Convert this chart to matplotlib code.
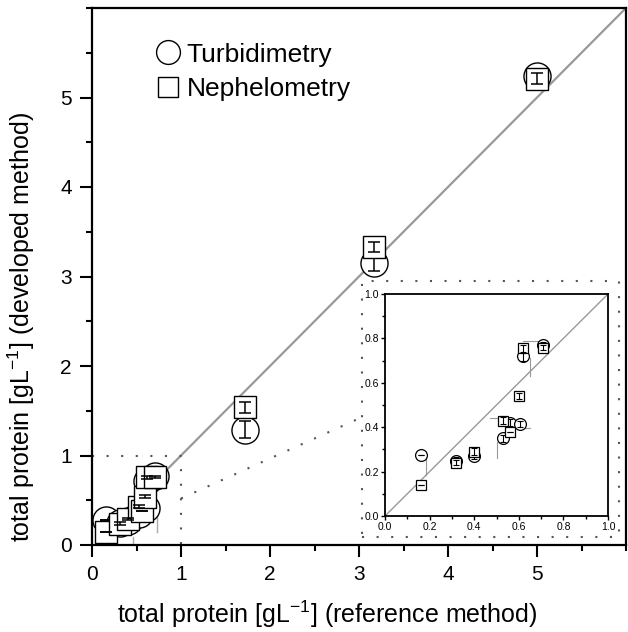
import matplotlib
matplotlib.use('Agg')
import matplotlib.pyplot as plt
from matplotlib.ticker import MultipleLocator, FormatStrFormatter

plt.rcParams['font.family'] = ['Liberation Sans', 'DejaVu Sans']
plt.rcParams['mathtext.default'] = 'regular'

# total protein [g/L]: reference method (x) vs developed method (y)
ref_turb = [0.16, 0.32, 0.40, 0.53, 0.56, 0.605, 0.62, 0.71, 1.72, 3.17, 5.00]
dev_turb = [0.275, 0.25, 0.27, 0.35, 0.42, 0.415, 0.72, 0.77, 1.29, 3.15, 5.24]
err_turb = [0.0, 0.015, 0.015, 0.015, 0.015, 0.015, 0.02, 0.015, 0.09, 0.09, 0.02]

ref_neph = [0.16, 0.32, 0.40, 0.53, 0.56, 0.60, 0.62, 0.71, 1.72, 3.17, 5.00]
dev_neph = [0.14, 0.24, 0.29, 0.43, 0.38, 0.54, 0.755, 0.758, 1.54, 3.33, 5.21]
err_neph = [0.0, 0.012, 0.015, 0.015, 0.0, 0.015, 0.015, 0.012, 0.06, 0.06, 0.06]

# thin grey bars (inset scale and main scale)
inset_seg_x = [[0.185, 0.185], [0.62, 0.70], [0.65, 0.65], [0.47, 0.53], [0.50, 0.50], [0.615, 0.65]]
inset_seg_y = [[0.185, 0.26], [0.79, 0.79], [0.63, 0.71], [0.44, 0.44], [0.26, 0.335], [0.395, 0.395]]
main_seg_x = [[0.735, 0.735], [0.46, 0.46]]
main_seg_y = [[0.15, 0.45], [0.0, 0.09]]

# zoom frame decoration
zoom_box_x = [0, 1, 1]
zoom_box_y = [1, 1, 0]
link_x = [1.0, 2.97]
link_y = [0.52, 1.40]
inset_box_x = [3.03, 5.92, 5.92, 3.03, 3.03]
inset_box_y = [0.09, 0.09, 2.95, 2.95, 0.09]
diag_main = [0.85, 6.0]
diag_inset = [0.0, 1.0]

dots = (0, (1, 6))
dotcol = '#555555'

fig = plt.figure(figsize=(6.28, 6.32), dpi=100)
ax = fig.add_axes([92/628, 87/632, 534/628, 537/632])

ax.plot(diag_main, diag_main, color='#999999', lw=1.6, zorder=1)
ax.plot(zoom_box_x, zoom_box_y, color=dotcol, lw=1.5, ls=dots, zorder=1)
ax.plot(link_x, link_y, color=dotcol, lw=1.5, ls=dots, zorder=1)
ax.plot(inset_box_x, inset_box_y, color=dotcol, lw=1.5, ls=dots, zorder=1)
for sx, sy in zip(main_seg_x, main_seg_y):
    ax.plot(sx, sy, color='#aaaaaa', lw=1, zorder=1)

ax.plot(ref_turb, dev_turb, 'o', ms=19.5, mfc='white', mec='black', mew=1.0,
        label='Turbidimetry', zorder=2)
ax.errorbar(ref_turb, dev_turb, yerr=err_turb, fmt='none', ecolor='black',
            elinewidth=1.1, capsize=4, capthick=1.1, zorder=3)
ax.plot(ref_neph, dev_neph, 's', ms=16.5, mfc='white', mec='black', mew=1.0,
        label='Nephelometry', zorder=4)
ax.errorbar(ref_neph, dev_neph, yerr=err_neph, fmt='none', ecolor='black',
            elinewidth=1.1, capsize=4, capthick=1.1, zorder=5)

ax.set_xlim(0, 6)
ax.set_ylim(0, 6)
ax.xaxis.set_minor_locator(MultipleLocator(0.5))
ax.yaxis.set_minor_locator(MultipleLocator(0.5))
ax.set_xticks([0, 1, 2, 3, 4, 5])
ax.set_yticks([0, 1, 2, 3, 4, 5])
ax.tick_params(which='major', direction='out', length=8.5, width=1.5, labelsize=15, pad=6)
ax.tick_params(which='minor', direction='out', length=4.5, width=1.5)
for s in ax.spines.values():
    s.set_linewidth(1.6)

ax.set_xlabel('total protein [gL$^{-1}$] (reference method)', fontsize=18)
ax.set_ylabel('total protein [gL$^{-1}$] (developed method)', fontsize=18)
ax.xaxis.set_label_coords(0.44, -0.1)
ax.yaxis.set_label_coords(-0.103, 0.406)

ax.legend(loc='upper left', bbox_to_anchor=(0.098, 0.955), frameon=False, fontsize=19,
          handletextpad=0.2, labelspacing=0.4, borderaxespad=0, markerscale=0.88,
          handlelength=1.0)

# inset
ins = fig.add_axes([385/628, 116/632, 223/628, 222/632])
ins.plot(diag_inset, diag_inset, color='#999999', lw=1, zorder=1)
for sx, sy in zip(inset_seg_x, inset_seg_y):
    ins.plot(sx, sy, color='#999999', lw=0.8, zorder=1)
ins.plot(ref_turb, dev_turb, 'o', ms=8.5, mfc='white', mec='black', mew=0.9, zorder=2)
ins.errorbar(ref_turb, dev_turb, yerr=err_turb, fmt='none', ecolor='black',
             elinewidth=0.8, capsize=2.5, capthick=0.8, zorder=3)
ins.plot(ref_neph, dev_neph, 's', ms=7.5, mfc='white', mec='black', mew=0.9, zorder=4)
ins.errorbar(ref_neph, dev_neph, yerr=err_neph, fmt='none', ecolor='black',
             elinewidth=0.8, capsize=2.5, capthick=0.8, zorder=5)
ins.set_xlim(0, 1)
ins.set_ylim(0, 1)
ins.xaxis.set_major_locator(MultipleLocator(0.2))
ins.xaxis.set_minor_locator(MultipleLocator(0.1))
ins.yaxis.set_major_locator(MultipleLocator(0.2))
ins.yaxis.set_minor_locator(MultipleLocator(0.1))
ins.xaxis.set_major_formatter(FormatStrFormatter('%.1f'))
ins.yaxis.set_major_formatter(FormatStrFormatter('%.1f'))
ins.tick_params(which='major', direction='out', length=3, width=1, labelsize=7.5, pad=1.5)
ins.tick_params(which='minor', direction='out', length=2, width=1)
for s in ins.spines.values():
    s.set_linewidth(1.3)

fig.savefig('out.png', dpi=100)
